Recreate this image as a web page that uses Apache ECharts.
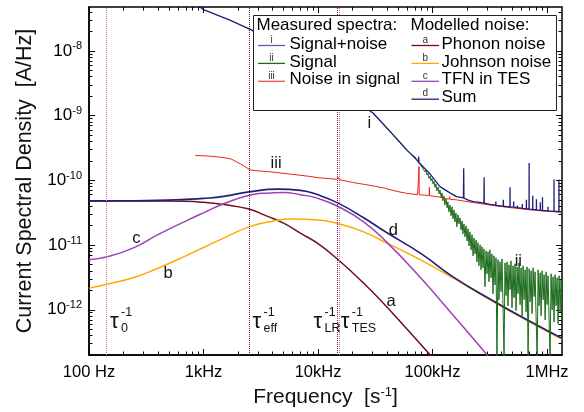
<!DOCTYPE html>
<html>
<head>
<meta charset="utf-8">
<script src="https://cdn.jsdelivr.net/npm/echarts@6/dist/echarts.min.js"></script>
<style>
  html, body { margin: 0; padding: 0; background: #fff; }
  #chart { width: 584px; height: 412px; }
</style>
</head>
<body>
<div id="chart"></div>
<script>
// Current spectral density of a TES detector: measured spectra and modelled noise terms.
const FONT = '"Liberation Sans", Arial, sans-serif';
const GRID = {left: 89, top: 7, right: 22, bottom: 57};

// Axis ranges (Hz, A/Hz) and decade tick labels
const freqRange = [100, 1.35e6];
const densityRange = [2.0e-13, 4.78e-8];
const xTickValues = [1e2, 1e3, 1e4, 1e5, 1e6];
const xTickText = ['100 Hz', '1kHz', '10kHz', '100kHz', '1MHz'];

// Modelled noise, [frequency Hz, A/Hz]
const phonon = [[100,4.82e-11],[200,4.82e-11],[400,4.8e-11],[700,4.74e-11],[1000,4.57e-11],[1500,4.23e-11],[2500,3.6e-11],[3500,2.85e-11],[5000,2.18e-11],[7000,1.53e-11],[10000,1.05e-11],[15000,5.92e-12],[25000,2.58e-12],[35000,1.42e-12],[60000,5.0e-13],[95000,2.02e-13],[150000,8.1e-14]];
const johnson = [[100,2.16e-12],[150,2.52e-12],[250,3.18e-12],[400,4.39e-12],[700,6.82e-12],[1000,9.17e-12],[1500,1.28e-11],[2500,1.91e-11],[4000,2.34e-11],[6000,2.52e-11],[10000,2.45e-11],[15000,2.13e-11],[25000,1.6e-11],[40000,1.07e-11],[80000,5.81e-12],[150000,3.12e-12],[337000,1.34e-12],[700000,6.53e-13],[1350000,3.5e-13]];
const tfn = [[100,5.92e-12],[150,6.7e-12],[250,9.23e-12],[400,1.45e-11],[700,2.35e-11],[1000,3.15e-11],[1500,4.34e-11],[2500,5.87e-11],[3500,6.35e-11],[5000,6.48e-11],[7000,6.0e-11],[10000,5.27e-11],[15000,3.94e-11],[25000,2.29e-11],[40000,1.1e-11],[80000,3.01e-12],[150000,8.4e-13],[300000,2.0e-13],[400000,1.1e-13]];
const noiseSum = [[100,4.82e-11],[200,4.84e-11],[400,4.9e-11],[700,5.09e-11],[1000,5.27e-11],[1500,5.66e-11],[2500,6.64e-11],[4500,7.31e-11],[7000,7.01e-11],[10000,5.97e-11],[15000,4.45e-11],[25000,2.64e-11],[40000,1.55e-11],[80000,7.3e-12],[150000,3.25e-12],[337000,1.38e-12],[700000,6.7e-13],[1350000,3.63e-13]];

// Measured: signal + noise, [Hz, A/Hz]
const signalNoise = [[900,5.0e-8],[1000,4.35e-8],[1700,3.0e-8],[2640,2.1e-8],[5000,9.7e-9],[10000,4.2e-9],[20000,1.8e-9],[30400,1.09e-9],[42600,5.71e-10],[59600,2.96e-10],[75200,1.95e-10],[75600,2.33e-10],[76000,1.9e-10],[82600,1.62e-10],[95000,1.26e-10],[116000,8.0e-11],[142000,6.4e-11],[162000,5.62e-11],[186000,5.35e-11],[187000,1.54e-10],[188000,5.3e-11],[205000,4.95e-11],[227000,4.71e-11],[250000,4.6e-11],[281000,4.45e-11],[282000,1.12e-10],[283000,4.45e-11],[318000,4.27e-11],[356000,4.15e-11],[357000,4.7e-11],[358000,4.1e-11],[414000,4.0e-11],[415000,5.0e-11],[416000,3.98e-11],[444000,3.94e-11],[474000,3.9e-11],[475000,7.85e-11],[476000,3.9e-11],[510000,3.85e-11],[511000,4.7e-11],[512000,3.85e-11],[550000,3.8e-11],[551000,4.1e-11],[552000,3.8e-11],[607000,3.7e-11],[608000,4.3e-11],[609000,3.7e-11],[659000,3.65e-11],[660000,5.0e-11],[661000,3.65e-11],[696000,3.6e-11],[697000,1.85e-10],[698000,3.6e-11],[749000,3.55e-11],[750000,5.8e-11],[751000,3.55e-11],[806000,3.5e-11],[807000,5.1e-11],[808000,3.5e-11],[871000,3.45e-11],[872000,4.6e-11],[873000,3.45e-11],[911000,3.42e-11],[912000,5.5e-11],[913000,3.42e-11],[1020000,3.38e-11],[1021000,3.9e-11],[1022000,3.38e-11],[1149000,3.32e-11],[1150000,1.03e-10],[1152000,3.32e-11],[1268000,3.3e-11],[1270000,1.03e-10],[1272000,3.3e-11],[1352000,3.28e-11]];

// Measured: signal only, [kHz, A/Hz]
const signalKHz = [[30.4,1.07e-9],[42.6,5.6e-10],[59.6,2.9e-10],[70.4,2.3e-10],[73.2,2.07e-10],[76.2,1.83e-10],[77.7,1.94e-10],[79.3,1.68e-10],[80.9,1.78e-10],[82.6,1.5e-10],[84.2,1.61e-10],[86.0,1.35e-10],[87.7,1.45e-10],[89.5,1.21e-10],[91.3,1.3e-10],[93.2,1.07e-10],[95.0,1.17e-10],[97.0,9.8e-11],[98.9,1.07e-10],[101,8.83e-11],[103,9.7e-11],[105,7.8e-11],[107,8.83e-11],[109,6.9e-11],[112,7.9e-11],[114,6.2e-11],[116,7.1e-11],[119,5.45e-11],[121,6.4e-11],[123,4.83e-11],[126,5.76e-11],[128,4.17e-11],[131,5.17e-11],[134,3.76e-11],[136,4.66e-11],[139,3.26e-11],[142,4.17e-11],[145,2.83e-11],[148,3.9e-11],[151,2.54e-11],[154,3.5e-11],[157,2.28e-11],[160,3.14e-11],[163,1.92e-11],[167,2.93e-11],[170,2.13e-11],[174,2.63e-11],[177,1.72e-11],[181,2.36e-11],[184,1.49e-11],[188,2.13e-11],[192,1.34e-11],[196,1.98e-11],[200,1.16e-11],[204,1.78e-11],[208,9.7e-12],[212,1.6e-11],[217,8.45e-12],[221,1.44e-11],[226,6.82e-12],[230,1.29e-11],[235,7.3e-12],[240,1.2e-11],[244,5.5e-12],[249,1.09e-11],[254,4.78e-12],[260,1.01e-11],[265,4.15e-12],[270,9.4e-12],[276,4.45e-12],[281,8.75e-12],[287,2.27e-12],[293,8.16e-12],[299,3.6e-12],[305,7.87e-12],[311,2.71e-12],[317,8.45e-12],[324,3.12e-12],[330,7.3e-12],[337,1.77e-12],[344,6.82e-12],[351,2.43e-12],[358,6.35e-12],[365,1.8e-13],[373,5.92e-12],[380,1.43e-12],[388,5.5e-12],[396,1.9e-12],[404,6.1e-12],[412,1.24e-12],[421,1.8e-13],[429,5.3e-12],[438,1.65e-12],[447,5.5e-12],[456,1.15e-12],[465,4.95e-12],[475,2.04e-12],[484,5.7e-12],[494,1.07e-12],[504,4.78e-12],[515,1.54e-12],[525,5.13e-12],[536,9.7e-13],[547,4.6e-12],[558,1.77e-12],[569,5.3e-12],[581,1.2e-12],[593,4.45e-12],[605,8.1e-13],[617,4.78e-12],[630,1.43e-12],[643,4.15e-12],[656,9.3e-13],[669,4.6e-12],[683,1.8e-13],[697,4.3e-12],[711,1.33e-12],[725,4.0e-12],[740,8.7e-13],[755,4.45e-12],[771,1.6e-12],[786,3.86e-12],[802,7.5e-13],[819,1.8e-13],[835,4.15e-12],[852,1.15e-12],[870,3.73e-12],[887,8.1e-13],[905,4.0e-12],[924,1.43e-12],[942,3.48e-12],[962,7.0e-13],[981,3.86e-12],[1000,1.2e-12],[1020,3.35e-12],[1041,7.5e-13],[1062,1.8e-13],[1084,3.6e-12],[1106,1.0e-12],[1128,3.23e-12],[1151,6.5e-13],[1174,3.48e-12],[1198,1.15e-12],[1223,3.12e-12],[1248,6.1e-13],[1273,3.35e-12],[1299,9.3e-13],[1325,2.91e-12],[1352,7.0e-13]];

// Measured: noise in signal, [Hz, A/Hz]
const noiseInSignal = [[846,2.42e-10],[1000,2.4e-10],[1200,2.35e-10],[1500,2.25e-10],[1750,2.13e-10],[2100,1.8e-10],[2450,1.52e-10],[2600,1.44e-10],[3000,1.4e-10],[3600,1.37e-10],[4200,1.33e-10],[5500,1.26e-10],[7000,1.2e-10],[8500,1.15e-10],[10000,1.1e-10],[12000,1.07e-10],[14500,1.04e-10],[14900,1.12e-10],[15300,1.03e-10],[20000,9.3e-11],[25000,8.7e-11],[30400,8.2e-11],[38000,7.6e-11],[45000,7.0e-11],[52000,6.6e-11],[59600,6.3e-11],[74000,6.0e-11],[76000,6.0e-11],[76200,1.63e-10],[76500,6.0e-11],[85000,5.9e-11],[93500,5.85e-11],[93800,7.85e-11],[94100,5.8e-11],[105000,5.65e-11],[116000,5.5e-11],[130000,5.2e-11],[140000,5.15e-11],[141000,5.6e-11],[142000,5.1e-11],[162000,5.0e-11],[200000,4.7e-11],[227000,4.55e-11],[318000,4.15e-11],[444000,3.85e-11],[711000,3.5e-11],[1352000,3.2e-11]];

// Characteristic rates (Hz) marked by dotted lines
const tauRates = [{sub:'0', f:141}, {sub:'eff', f:2520}, {sub:'LR', f:14800}, {sub:'TES', f:15200}];

// Curve tags [text, Hz, A/Hz]
const curveTags = [['i',28100,7.64e-10],['ii',561000,5.57e-12],['iii',4300,1.8e-10],['a',43500,1.34e-12],['b',490,3.69e-12],['c',259,1.28e-11],['d',45500,1.68e-11]];

const C = {
  sum: '#1f1f7a', signalNoise: '#1f1f7a', signal: '#1b6b1b', noise: '#e8241c',
  phonon: '#6e1020', johnson: '#ffaa00', tfn: '#9c44b4'
};
const tauColor = {'0': '#e0709a', eff: '#7a1030', LR: '#702050', TES: '#d070a8'};
const tauOffset = {'0': 4, eff: 3, LR: -24, TES: 2};

const measuredLegend = [['i','Signal+noise','#5a5ab8'],['ii','Signal',C.signal],['iii','Noise in signal','#f05050']];
const modelLegend = [['a','Phonon noise',C.phonon],['b','Johnson noise',C.johnson],['c','TFN in TES',C.tfn],['d','Sum',C.sum]];

// Decade (major) and 2..9 (minor) tick positions, as base-10 exponents inside a range
function decadeTickExponents(lo, hi, major) {
  const out = [];
  for (let e = Math.floor(Math.log10(lo)); e <= Math.ceil(Math.log10(hi)); e++) {
    for (let k = 1; k <= 9; k++) {
      if ((k === 1) !== major) continue;
      const v = k * Math.pow(10, e);
      if (v >= lo * 0.9999 && v <= hi * 1.0001) out.push(Math.log10(v));
    }
  }
  return out;
}
const freqExp = [Math.log10(freqRange[0]), Math.log10(freqRange[1])];
const densityExp = [Math.log10(densityRange[0]), Math.log10(densityRange[1])];

// Label-less companion axes spanning the same decades linearly; they carry the inward frame ticks
function tickAxis(extent, position, values, len) {
  return {
    type: 'value', min: extent[0], max: extent[1], position: position, gridIndex: 0, silent: true,
    axisLine: {show: false, onZero: false}, axisLabel: {show: false}, splitLine: {show: false},
    axisPointer: {show: false},
    axisTick: {show: true, inside: true, length: len, customValues: values,
      lineStyle: {color: '#000', width: 1}}
  };
}
const xTickAxes = [
  tickAxis(freqExp, 'bottom', decadeTickExponents(freqRange[0], freqRange[1], true), 6),
  tickAxis(freqExp, 'bottom', decadeTickExponents(freqRange[0], freqRange[1], false), 3.5),
  tickAxis(freqExp, 'top', decadeTickExponents(freqRange[0], freqRange[1], true), 6),
  tickAxis(freqExp, 'top', decadeTickExponents(freqRange[0], freqRange[1], false), 3.5)
];
const yTickAxes = [
  tickAxis(densityExp, 'left', decadeTickExponents(densityRange[0], densityRange[1], true), 6),
  tickAxis(densityExp, 'left', decadeTickExponents(densityRange[0], densityRange[1], false), 3.5),
  tickAxis(densityExp, 'right', decadeTickExponents(densityRange[0], densityRange[1], true), 6),
  tickAxis(densityExp, 'right', decadeTickExponents(densityRange[0], densityRange[1], false), 3.5)
];

function textStyle(text, size, extra) {
  return Object.assign({text: text, fontSize: size, fontFamily: FONT, fill: '#111',
    textAlign: 'left', align: 'left', textVerticalAlign: 'middle', verticalAlign: 'middle'}, extra || {});
}

function renderTag(params, api) {
  const p = api.coord([api.value(0), api.value(1)]);
  return {type: 'text', x: p[0], y: p[1],
    style: textStyle(curveTags[params.dataIndex][0], 16.5, {textAlign: 'center', align: 'center'})};
}

function renderTau(params, api) {
  const t = tauRates[params.dataIndex];
  const cs = params.coordSys;
  const p = api.coord([api.value(0), api.value(1)]);
  const x0 = p[0] + tauOffset[t.sub];
  const y0 = cs.y + cs.height - 33;
  return {type: 'group', children: [
    {type: 'text', x: x0, y: y0, style: textStyle('τ', 22)},
    {type: 'text', x: x0 + 11, y: y0 - 9, style: textStyle('-1', 12.5)},
    {type: 'text', x: x0 + 11, y: y0 + 7, style: textStyle(t.sub, 12.5)}
  ]};
}

function legendElements() {
  const els = [];
  els.push({type: 'rect', shape: {x: 253.5, y: 15.5, width: 303, height: 95},
    style: {fill: '#fff', stroke: '#222', lineWidth: 1}, z: 100});
  const cols = [
    {title: 'Measured spectra:', tx: 256.5, lx: 258, lw: 27, textX: 289.5, items: measuredLegend},
    {title: 'Modelled noise:', tx: 410.5, lx: 411.5, lw: 27.5, textX: 441.5, items: modelLegend}
  ];
  cols.forEach(c => {
    els.push({type: 'text', x: c.tx, y: 25.5, style: textStyle(c.title, 17, {fill: '#000'}), z: 101});
    c.items.forEach((it, k) => {
      const ly = 45.5 + k * 17.9;
      els.push({type: 'line', shape: {x1: c.lx, y1: ly, x2: c.lx + c.lw, y2: ly},
        style: {stroke: it[2], lineWidth: 1.3}, z: 101});
      els.push({type: 'text', x: c.lx + c.lw / 2, y: ly - 0.5,
        style: textStyle(it[0], 10, {fill: '#333', textAlign: 'center', align: 'center', textVerticalAlign: 'bottom', verticalAlign: 'bottom'}), z: 101});
      els.push({type: 'text', x: c.textX, y: ly - 1.5, style: textStyle(it[1], 17, {fill: '#000'}), z: 101});
    });
  });
  return els;
}

function curve(data, color, width, z, smooth) {
  return {type: 'line', data: data, symbol: 'none', showSymbol: false, silent: true, z: z,
    xAxisIndex: 0, yAxisIndex: 0,
    smooth: smooth ? 0.5 : false, lineStyle: {color: color, width: width}, clip: true};
}

const chart = echarts.init(document.getElementById('chart'), null, {renderer: 'canvas'});
chart.setOption({
  animation: false,
  backgroundColor: '#fff',
  grid: Object.assign({containLabel: false, outerBoundsMode: 'none', show: true,
    borderColor: '#000', borderWidth: 1.5, backgroundColor: 'transparent'}, GRID),
  xAxis: [{
    type: 'log', logBase: 10, min: freqRange[0], max: freqRange[1], position: 'bottom',
    axisLine: {show: true, onZero: false, lineStyle: {color: '#000', width: 1.5}},
    axisTick: {show: false}, splitLine: {show: false}, minorTick: {show: false},
    axisLabel: {
      margin: 9, color: '#000', fontSize: 16.5, fontFamily: FONT,
      formatter: v => {
        const i = xTickValues.findIndex(t => Math.abs(Math.log10(v) - Math.log10(t)) < 1e-6);
        return i >= 0 ? xTickText[i] : '';
      }
    },
    name: '{t|Frequency  [s}{s|-1}{t|]}', nameLocation: 'middle', nameGap: 30,
    nameTextStyle: {rich: {
      t: {fontSize: 21, fontFamily: FONT, color: '#111'},
      s: {fontSize: 13, fontFamily: FONT, color: '#111', padding: [0, 0, 10, 0]}
    }}
  }].concat(xTickAxes),
  yAxis: [{
    type: 'log', logBase: 10, min: densityRange[0], max: densityRange[1], position: 'left',
    axisLine: {show: true, onZero: false, lineStyle: {color: '#000', width: 1.5}},
    axisTick: {show: false}, splitLine: {show: false}, minorTick: {show: false},
    axisLabel: {
      margin: 7, color: '#000', fontFamily: FONT,
      formatter: v => {
        const e = Math.log10(v), r = Math.round(e);
        return Math.abs(e - r) < 1e-6 ? '{b|10}{s|' + r + '}' : '';
      },
      rich: {
        b: {fontSize: 17, fontFamily: FONT, color: '#000'},
        s: {fontSize: 11, fontFamily: FONT, color: '#000', padding: [0, 0, 9, 0]}
      }
    },
    name: 'Current Spectral Density  [A/Hz]', nameLocation: 'middle', nameGap: 50, nameRotate: 90,
    nameTextStyle: {fontSize: 21.5, fontFamily: FONT, color: '#111'}
  }].concat(yTickAxes),
  graphic: {elements: legendElements()},
  series: [
    {type: 'line', data: [], silent: true, z: 1, xAxisIndex: 0, yAxisIndex: 0,
      markLine: {symbol: ['none', 'none'], silent: true, animation: false, label: {show: false},
        data: tauRates.map(t => ({xAxis: t.f, lineStyle: {color: tauColor[t.sub], type: 'dotted', width: 1}}))}},
    curve(phonon, C.phonon, 1.5, 3, true),
    curve(johnson, C.johnson, 1.5, 3, true),
    curve(tfn, C.tfn, 1.5, 3, true),
    curve(noiseSum, C.sum, 1.6, 3, true),
    curve(signalKHz.map(d => [d[0] * 1e3, d[1]]), C.signal, 1, 4, false),
    curve(noiseInSignal, C.noise, 1, 4, false),
    curve(signalNoise, C.signalNoise, 1.3, 5, false),
    {type: 'custom', renderItem: renderTag, data: curveTags.map(t => [t[1], t[2]]), silent: true, z: 9, clip: false, xAxisIndex: 0, yAxisIndex: 0},
    {type: 'custom', renderItem: renderTau, data: tauRates.map(t => [t.f, densityRange[0]]), silent: true, z: 9, clip: false, xAxisIndex: 0, yAxisIndex: 0}
  ]
});
</script>
</body>
</html>
